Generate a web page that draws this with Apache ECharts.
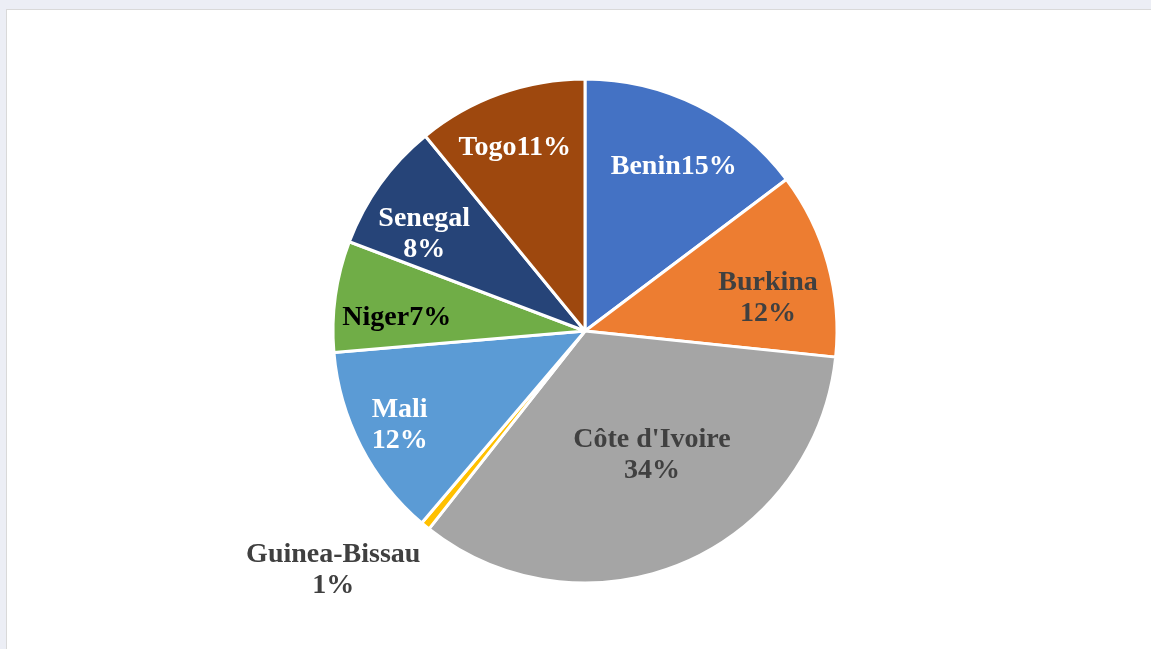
<!DOCTYPE html>
<html>
<head>
<meta charset="utf-8">
<script src="https://cdn.jsdelivr.net/npm/echarts@6/dist/echarts.min.js"></script>
<style>
    html, body { margin: 0; padding: 0; width: 1151px; height: 649px; overflow: hidden; background: #eceef5; }
    #panel { position: absolute; left: 6px; top: 9px; right: -2px; bottom: -2px; background: #fff; border: 1px solid #d9d9d9; }
    #chart { position: absolute; left: 0; top: 0; width: 1151px; height: 649px; }
</style>
</head>
<body>
<div id="panel"></div>
<div id="chart"></div>
<script>
// 数据
const countries = ['Benin', 'Burkina', "Côte d'Ivoire", 'Guinea-Bissau', 'Mali', 'Niger', 'Senegal', 'Togo'];
const shares = [14.7, 11.9, 33.9, 0.6, 12.4, 7.1, 8.3, 10.9];
const colors = ['#4472C4', '#ED7D31', '#A5A5A5', '#FFC000', '#5B9BD5', '#70AD47', '#264478', '#9E480E'];
const labelColors = ['#ffffff', '#404040', '#404040', '#404040', '#ffffff', '#000000', '#ffffff', '#ffffff'];
const labelSep = ['', '\n', '\n', '\n', '\n', '', '\n', ''];

// 标签位置：半径比例、角度微调
const labelR = [0.75, 0.74, 0.55, 1.37, 0.82, 0.75, 0.75, 0.79];
const labelTurn = [1.5, 4.5, -6, 7.5, 1, -3, -4, -1];

const cx = 585, cy = 331, R = 252;
const total = shares.reduce((a, b) => a + b, 0);
const midAngles = [];
let acc = 0;
shares.forEach(v => { midAngles.push((acc + v / 2) / total * 360); acc += v; });

let chart = echarts.init(document.getElementById('chart'));
chart.setOption({
    series: [
        {
            type: 'pie',
            center: [cx, cy],
            radius: R,
            startAngle: 90,
            clockwise: true,
            animation: false,
            data: countries.map((name, i) => ({
                name: name,
                value: shares[i],
                itemStyle: { color: colors[i] },
                label: { color: labelColors[i] }
            })),
            itemStyle: { borderColor: '#ffffff', borderWidth: 3 },
            label: {
                show: true,
                position: 'inside',
                fontFamily: 'Liberation Serif',
                fontWeight: 'bold',
                fontSize: 28,
                lineHeight: 31,
                align: 'center',
                formatter: p => p.name + labelSep[p.dataIndex] + Math.round(p.percent) + '%'
            },
            labelLine: { show: false },
            emphasis: { disabled: true },
            labelLayout: p => {
                const i = p.dataIndex;
                const a = (midAngles[i] + labelTurn[i]) * Math.PI / 180;
                const r = R * labelR[i];
                return { x: cx + r * Math.sin(a), y: cy - r * Math.cos(a) + 3 };
            }
        }
    ]
});
</script>
</body>
</html>
